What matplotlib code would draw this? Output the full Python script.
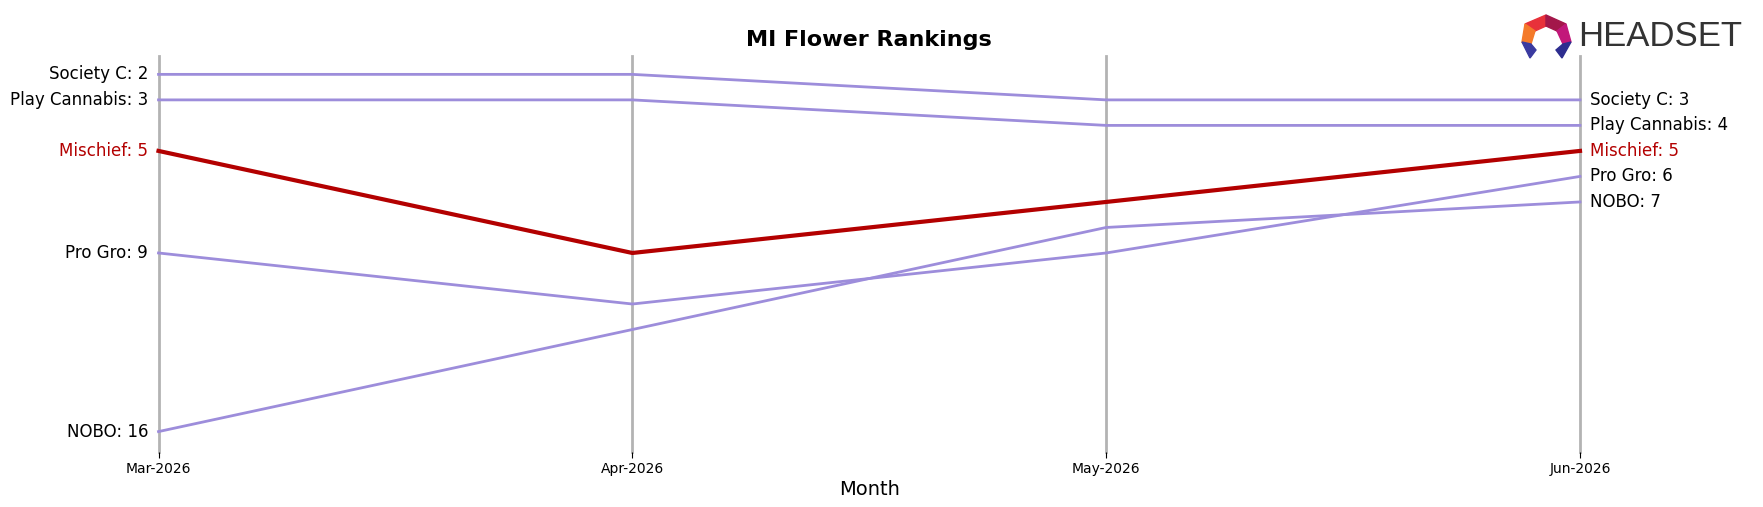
import matplotlib
matplotlib.use("Agg")
import matplotlib.pyplot as plt
from matplotlib.patches import Polygon

months = ["Mar-2026", "Apr-2026", "May-2026", "Jun-2026"]
brands = ["Society C", "Play Cannabis", "Mischief", "Pro Gro", "NOBO"]
society_c = [2, 2, 3, 3]
play_cannabis = [3, 3, 4, 4]
mischief = [5, 9, 7, 5]
pro_gro = [9, 11, 9, 6]
nobo = [16, 12, 8, 7]
ranks = [society_c, play_cannabis, mischief, pro_gro, nobo]
highlight = "Mischief"

W, H = 1763, 507
fig = plt.figure(figsize=(W / 100, H / 100), dpi=100)
ax = fig.add_axes([158.5 / W, 1 - 452 / H, (1580 - 158.5) / W, (452 - 56) / H])

x = list(range(len(months)))
for xi in x:
    ax.axvline(xi, color="#b3b3b3", lw=2, zorder=1, clip_on=False)

purple = "#9d8ddb"
red = "#b30000"
for name, r in zip(brands, ranks):
    if name == highlight:
        ax.plot(x, r, color=red, lw=3, zorder=3, clip_on=False)
    else:
        ax.plot(x, r, color=purple, lw=2, zorder=2, clip_on=False)
    col = red if name == highlight else "black"
    ax.annotate(f"{name}: {r[0]}", xy=(x[0], r[0]), xytext=(-7.5, 0),
                textcoords="offset points", ha="right", va="center",
                fontsize=12, color=col)
    ax.annotate(f"{name}: {r[-1]}", xy=(x[-1], r[-1]), xytext=(7, 0),
                textcoords="offset points", ha="left", va="center",
                fontsize=12, color=col)

ax.set_xlim(0, 3)
ax.set_ylim(16.8, 1.28)
ax.set_xticks(x)
ax.set_xticklabels(months, fontsize=10)
ax.set_yticks([])
for s in ax.spines.values():
    s.set_visible(False)
ax.tick_params(axis="x", length=4, pad=3)
ax.set_xlabel("Month", fontsize=14, labelpad=3)
ax.set_title("MI Flower Rankings", fontsize=16, fontweight="bold", pad=7)

# Logo
def fp(px, py):
    return (px / W, 1 - py / H)

icon = [
    ([(1525, 24), (1546, 15), (1546, 26), (1535, 31)], "#e8313a"),
    ([(1546, 15), (1566, 24), (1557, 31), (1546, 26)], "#a3174a"),
    ([(1566, 24), (1571, 42), (1563, 44), (1557, 31)], "#c2177a"),
    ([(1525, 24), (1535, 31), (1531, 44), (1522, 42)], "#f47a2a"),
    ([(1522, 42), (1531, 44), (1536, 50), (1530, 58)], "#3a3aa0"),
    ([(1571, 42), (1563, 44), (1556, 50), (1562, 58)], "#2d2d8f"),
]
for pts, c in icon:
    fig.patches.append(Polygon([fp(*p) for p in pts], closed=True,
                               transform=fig.transFigure, color=c, zorder=5))
fig.text(1578 / W, 1 - 37 / H, "HEADSET", fontsize=25, color="#333333",
         va="center", ha="left", family=["Liberation Sans", "DejaVu Sans"])

fig.savefig("out.png", dpi=100)
